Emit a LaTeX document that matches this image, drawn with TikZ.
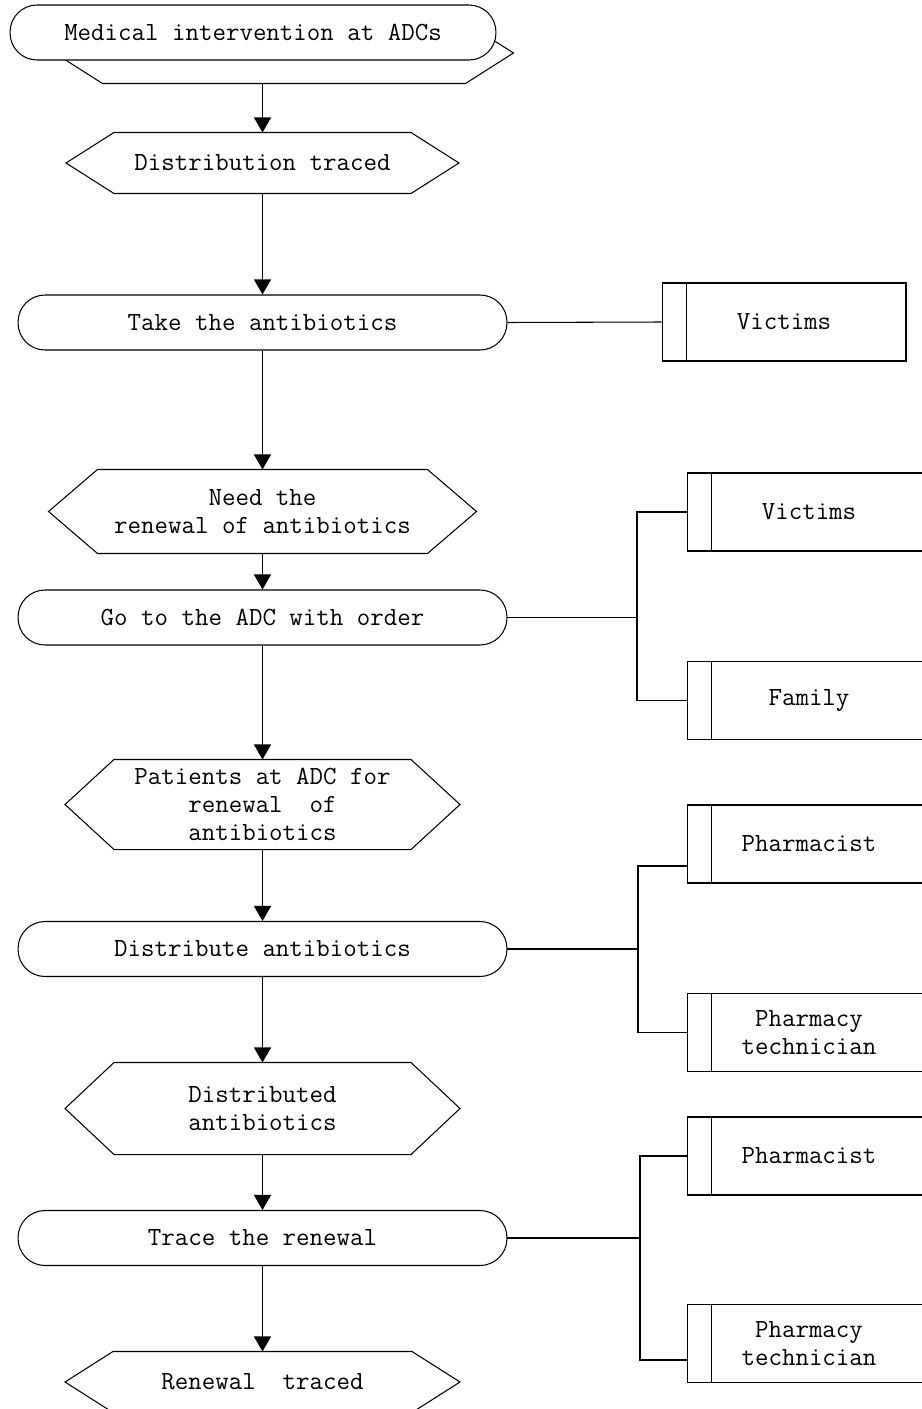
\documentclass[tikz,border=0pt]{standalone}
\usetikzlibrary{arrows.meta}
\begin{document}
\begin{tikzpicture}[
    x=0.02cm, y=-0.02cm, line width=0.6pt,
    every node/.style={font=\ttfamily\fontsize{14.9}{16}\selectfont, align=center, inner sep=0pt},
    term/.style={draw, rounded corners=0.54cm, minimum width=9.78cm, minimum height=1.1cm},
    hexnode/.style={minimum width=7.88cm},
    actor/.style={draw, minimum width=4.88cm, minimum height=1.56cm,
        path picture={\draw ([xshift=0.48cm]path picture bounding box.north west)
            -- ([xshift=0.48cm]path picture bounding box.south west);}},
    arrow/.style={-{Triangle[width=0.34cm,length=0.3cm]}}
]
\useasboundingbox (0,0) rectangle (921,1409);

% --- main chain ---
\node[hexnode, minimum width=9.16cm, minimum height=1.2cm] (hexTop) at (284,53) {};
\node[hexnode, minimum width=7.84cm, minimum height=1.2cm] (hexA) at (262.5,163) {Distribution traced};
\node[term] (termB) at (262.5,322.5) {Take the antibiotics};
\node[hexnode, minimum width=8.54cm, minimum height=1.66cm] (hexC) at (262.5,511.5) {Need the\\renewal of antibiotics};
\node[term] (termD) at (262.5,617.5) {Go to the ADC with order};
\node[hexnode, minimum height=1.78cm] (hexE) at (262.5,804.5) {Patients at ADC for\\renewal\ \ of\\antibiotics};
\node[term] (termE) at (262.5,949) {Distribute antibiotics};
\node[hexnode, minimum height=1.82cm] (hexF) at (262.5,1108.5) {Distributed\\antibiotics};
\node[term] (termG) at (262.5,1238) {Trace the renewal};
\node[hexnode, minimum height=1.2cm] (hexH) at (262.5,1382) {Renewal\ \ traced};

% hexagon outlines
\foreach \n/\d in {hexTop/48, hexA/48, hexC/49, hexE/49, hexF/49, hexH/48}
    \draw (\n.west) -- ([xshift=\d*0.02cm]\n.north west) -- ([xshift=-\d*0.02cm]\n.north east)
        -- (\n.east) -- ([xshift=-\d*0.02cm]\n.south east) -- ([xshift=\d*0.02cm]\n.south west) -- cycle;

% start sits over the first hexagon
\node[term, fill=white, minimum width=9.72cm] (start) at (253,32.5) {Medical intervention at ADCs};

% --- actors ---
\node[actor] (boxB) at (784,322) {Victims};
\node[actor] (boxD1) at (809,512) {Victims};
\node[actor] (boxD2) at (809,700.5) {Family};
\node[actor] (boxE1) at (809,844) {Pharmacist};
\node[actor] (boxE2) at (809,1032.5) {Pharmacy\\technician};
\node[actor] (boxG1) at (809,1156) {Pharmacist};
\node[actor] (boxG2) at (809,1343.5) {Pharmacy\\technician};

% --- arrows ---
\draw[arrow] (hexA.north |- hexTop.south) -- (hexA.north);
\foreach \a/\b in {hexA/termB, termB/hexC, hexC/termD, termD/hexE, hexE/termE, termE/hexF, hexF/termG, termG/hexH}
    \draw[arrow] (\a.south) -- (\b.north);

% --- links to actors ---
\coordinate (jD) at (637,617.5);
\coordinate (jE) at (638,949);
\coordinate (jG) at (640,1238);
\draw (termB.east) -- (boxB.west);
\draw (termD.east) -- (jD) |- (boxD1.west);
\draw (jD) |- (boxD2.west);
\draw (termE.east) -- (jE) |- ([yshift=-0.44cm]boxE1.west);
\draw (jE) |- (boxE2.west);
\draw (termG.east) -- (jG) |- (boxG1.west);
\draw (jG) |- ([yshift=-0.33cm]boxG2.west);
\end{tikzpicture}
\end{document}
